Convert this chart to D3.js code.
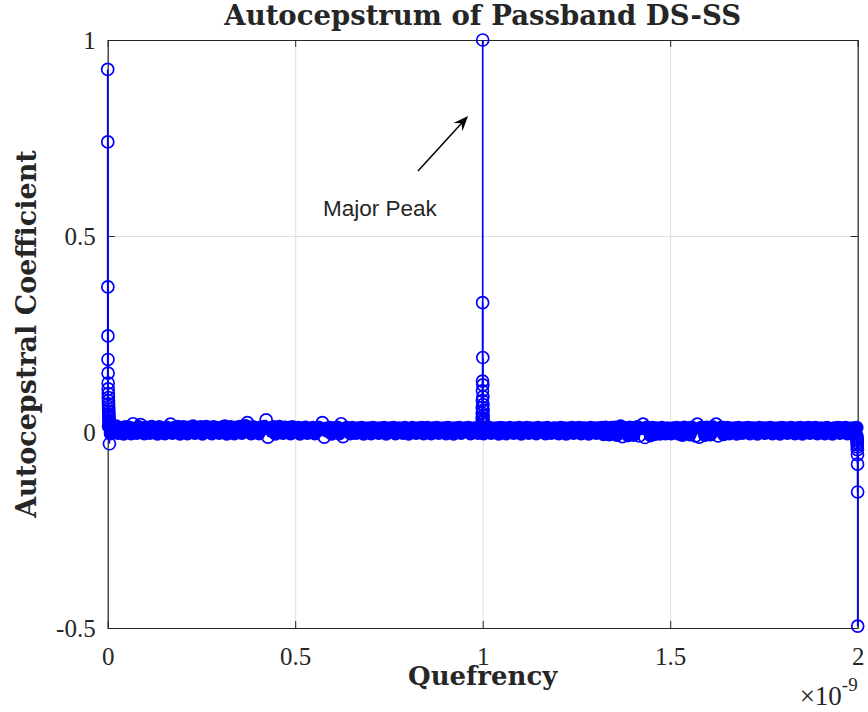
<!DOCTYPE html>
<html>
<head>
<meta charset="utf-8">
<script src="https://cdn.jsdelivr.net/npm/d3@7"></script>
<style>
  body { margin: 0; background: #fff; }
  svg { display: block; }
</style>
</head>
<body>
<svg id="chart" width="868" height="712"></svg>
<script>
'use strict';

// quefrency in seconds, values are autocepstral coefficients
const xTicks = [0, 0.5e-9, 1e-9, 1.5e-9, 2e-9];
const yTicks = [-0.5, 0, 0.5, 1];

// the big coefficients bunched at the origin
const leadQuefrency = [0, 0.0002e-9, 0.0004e-9, 0.0006e-9, 0.0008e-9, 0.001e-9, 0.0012e-9, 0.0014e-9,
  0.0016e-9, 0.0018e-9, 0.002e-9, 0.0022e-9, 0.0024e-9, 0.0026e-9, 0.0028e-9, 0.003e-9, 0.0032e-9,
  0.0034e-9, 0.0036e-9, 0.0038e-9, 0.004e-9, 0.0042e-9, 0.0044e-9, 0.0046e-9];
const leadValues = [0.925, 0.74, 0.37, 0.245, 0.185, 0.15, 0.125, 0.11, 0.098, 0.088, 0.08, 0.072,
  0.065, 0.058, 0.052, 0.046, 0.041, 0.036, 0.031, 0.027, 0.023, 0.019, 0.016, -0.03];

// the peak at one chip period
const peakQuefrency = [1e-9, 0.9998e-9, 1.0002e-9, 0.9996e-9, 1.0004e-9, 0.9994e-9, 1.0006e-9,
  0.9992e-9, 1.0008e-9, 0.999e-9, 1.001e-9, 0.9988e-9, 1.0012e-9, 0.9986e-9, 1.0014e-9, 0.9984e-9, 1.0016e-9];
const peakValues = [1.0, 0.33, 0.19, 0.13, 0.12, 0.105, 0.09, 0.08, 0.07, 0.062, 0.055, 0.048,
  0.042, 0.036, 0.03, 0.025, 0.02];

// the negative tail at the far end
const tailQuefrency = [2e-9, 1.9998e-9, 1.9996e-9, 1.9994e-9, 1.9992e-9, 1.999e-9, 1.9988e-9,
  1.9986e-9, 1.9984e-9, 1.9982e-9, 1.998e-9, 1.9978e-9];
const tailValues = [-0.495, -0.153, -0.082, -0.058, -0.045, -0.038, -0.032, -0.027, -0.022,
  -0.018, -0.014, -0.01];

// floor samples, one every floorStep
const floorStep = 0.005e-9;
const floorValues = [
  0.014, -0.004, 0.009, 0.002, 0.015, -0.003, 0.011, 0.006, -0.005, 0.013,
  0.004, 0.012, -0.004, 0.021, 0.008, -0.003, 0.013, 0.019, 0.001, -0.004,
  0.012, 0.007, -0.003, 0.014, 0.003, 0.010, -0.005, 0.013, 0.006, 0.001,
  -0.004, 0.012, 0.008, 0.020, -0.003, 0.011, 0.004, 0.014, -0.005, 0.009,
  0.013, 0.002, -0.004, 0.012, 0.007, 0.015, -0.003, 0.010, 0.005, 0.013,
  -0.005, 0.009, 0.014, 0.001, 0.011, -0.004, 0.013, 0.006, 0.010, -0.003,
  0.012, 0.004, 0.015, -0.005, 0.009, 0.013, 0.002, -0.004, 0.012, 0.007,
  0.014, -0.003, 0.010, 0.016, 0.024, 0.005, -0.004, 0.013, 0.009, 0.002,
  -0.004, 0.012, 0.007, 0.014, 0.031, -0.013, 0.010, 0.003, 0.013, -0.005,
  0.009, 0.014, 0.002, -0.003, 0.012, 0.006, 0.011, -0.004, 0.013, 0.008,
  0.003, 0.011, -0.005, 0.010, 0.007, 0.012, -0.003, 0.009, 0.004, 0.011,
  -0.004, 0.010, 0.012, 0.006, 0.024, -0.013, 0.009, 0.002, 0.011, -0.005,
  0.010, 0.005, 0.012, -0.004, 0.021, -0.012, 0.008, 0.011, 0.003, -0.004,
  0.011, 0.006, -0.003, 0.010, 0.002, 0.011, -0.005, 0.009, 0.007, 0.010,
  -0.004, 0.011, 0.004, 0.009, -0.003, 0.010, 0.006, 0.011, -0.005, 0.008,
  0.010, 0.002, 0.011, -0.004, 0.007, 0.010, 0.003, -0.003, 0.011, 0.006,
  -0.005, 0.009, 0.011, 0.004, -0.003, 0.010, 0.007, 0.011, -0.004, 0.008,
  0.011, 0.003, -0.004, 0.010, 0.006, 0.011, -0.003, 0.009, 0.002, 0.010,
  -0.004, 0.011, 0.007, 0.009, -0.005, 0.010, 0.004, 0.011, -0.003, 0.008,
  0.010, 0.005, 0.011, -0.004, 0.008, 0.010, 0.002, -0.003, 0.011, 0.006,
  -0.004, 0.010, 0.007, 0.011, -0.003, 0.009, 0.004, 0.010, -0.005, 0.011,
  0.006, 0.010, -0.004, 0.008, 0.011, 0.003, -0.003, 0.010, 0.007, 0.011,
  -0.005, 0.009, 0.004, 0.011, -0.003, 0.010, 0.006, 0.009, -0.004, 0.011,
  0.008, 0.002, 0.010, -0.004, 0.011, 0.006, -0.003, 0.009, 0.010, 0.004,
  -0.004, 0.011, 0.007, 0.010, -0.005, 0.009, 0.003, 0.011, -0.003, 0.010,
  0.006, 0.011, -0.004, 0.009, 0.010, 0.002, -0.005, 0.011, 0.007, 0.010,
  -0.003, 0.010, 0.005, 0.011, -0.006, 0.012, 0.004, -0.007, 0.011, 0.008,
  0.012, -0.008, 0.010, 0.015, -0.012, 0.011, 0.006, -0.009, 0.012, 0.004,
  -0.008, 0.011, 0.013, -0.010, 0.009, 0.020, -0.014, 0.012, 0.005, -0.009,
  0.011, -0.006, 0.010, 0.004, -0.005, 0.011, 0.007, -0.004, 0.010, 0.003,
  -0.004, 0.010, 0.006, 0.011, -0.005, 0.009, -0.008, 0.012, 0.004, 0.010,
  -0.007, 0.012, 0.008, -0.010, 0.020, -0.013, 0.011, 0.006, -0.008, 0.012,
  0.009, -0.007, 0.013, 0.004, 0.020, -0.010, 0.010, 0.012, -0.006, 0.008,
  0.011, -0.004, 0.009, 0.006, 0.010, -0.005, 0.011, 0.003, -0.003, 0.010,
  0.007, 0.011, -0.004, 0.009, 0.010, 0.002, -0.005, 0.011, 0.006, 0.010,
  -0.003, 0.010, 0.005, 0.011, -0.004, 0.009, 0.007, 0.010, -0.005, 0.011,
  0.004, 0.010, -0.003, 0.009, 0.011, 0.006, -0.004, 0.010, 0.003, 0.011,
  -0.005, 0.009, 0.007, 0.011, -0.003, 0.010, 0.004, 0.011, -0.004, 0.008,
  0.010, 0.006, -0.004, 0.011, 0.009, 0.003, -0.005, 0.010, 0.007, 0.011,
  -0.003, 0.010, 0.004, 0.011, -0.004, 0.009, 0.006, 0.010, -0.005, 0.011
];
// floor markers inside this range sit in the solid band (thousands of overlapping rings)
const bandRange = [-0.009, 0.016];

// text arrow, in data units
const noteText = 'Major Peak';
const noteAt = [0.574e-9, 0.551];
const arrowFrom = [0.8275e-9, 0.666];
const arrowTo = [0.961e-9, 0.806];

const svg = d3.select('#chart');
const plotLeft = 107.7, plotRight = 857.7, plotTop = 40, plotBottom = 628;

const x = d3.scaleLinear().domain([0, 2e-9]).range([plotLeft, plotRight]);
const y = d3.scaleLinear().domain([-0.5, 1]).range([plotBottom, plotTop]);

const tickFont = 'Liberation Serif, Times New Roman, serif';
const labelFont = 'DejaVu Serif, serif';
const ink = '#262626';
const blue = '#0000ff';

// grid
svg.append('g')
  .attr('transform', `translate(0,${plotBottom})`)
  .call(d3.axisBottom(x).tickValues(xTicks).tickSize(-(plotBottom - plotTop)).tickFormat(''))
  .call(g => g.select('.domain').remove())
  .call(g => g.selectAll('line').attr('stroke', '#dfdfdf'));
svg.append('g')
  .attr('transform', `translate(${plotLeft},0)`)
  .call(d3.axisLeft(y).tickValues(yTicks).tickSize(-(plotRight - plotLeft)).tickFormat(''))
  .call(g => g.select('.domain').remove())
  .call(g => g.selectAll('line').attr('stroke', '#dfdfdf'));

// axes box with inward ticks
function styleAxis(g) {
  g.select('.domain').attr('stroke', ink).attr('stroke-width', 1.2);
  g.selectAll('.tick line').attr('stroke', ink);
  g.selectAll('text')
    .attr('font-family', tickFont)
    .attr('font-size', 25)
    .attr('fill', ink);
}
svg.append('g')
  .attr('transform', `translate(0,${plotBottom})`)
  .call(d3.axisBottom(x).tickValues(xTicks).tickSizeInner(-7).tickSizeOuter(0)
    .tickPadding(19).tickFormat(d => String(+(d / 1e-9).toFixed(1))))
  .call(styleAxis);
svg.append('g')
  .attr('transform', `translate(0,${plotTop})`)
  .call(d3.axisTop(x).tickValues(xTicks).tickSizeInner(-7).tickSizeOuter(0).tickFormat(''))
  .call(styleAxis);
svg.append('g')
  .attr('transform', `translate(${plotLeft},0)`)
  .call(d3.axisLeft(y).tickValues(yTicks).tickSizeInner(-7).tickSizeOuter(0)
    .tickPadding(12).tickFormat(d => String(d)))
  .call(styleAxis);
svg.append('g')
  .attr('transform', `translate(${plotRight},0)`)
  .call(d3.axisRight(y).tickValues(yTicks).tickSizeInner(-7).tickSizeOuter(0).tickFormat(''))
  .call(styleAxis);

// stems
const floorPoints = floorValues.map((v, i) => ({
  q: (i + 0.5) * floorStep, v, solid: v >= bandRange[0] && v <= bandRange[1]
}));
const zip = (qs, vs) => qs.map((q, i) => ({ q, v: vs[i], solid: false }));
const points = floorPoints
  .concat(zip(tailQuefrency, tailValues))
  .concat(zip(peakQuefrency, peakValues))
  .concat(zip(leadQuefrency, leadValues));

const stems = svg.append('g');
stems.selectAll('line')
  .data(points)
  .enter().append('line')
    .attr('x1', d => x(d.q))
    .attr('x2', d => x(d.q))
    .attr('y1', y(0))
    .attr('y2', d => y(d.v))
    .attr('stroke', blue)
    .attr('stroke-width', 1.6);
stems.selectAll('circle')
  .data(points)
  .enter().append('circle')
    .attr('cx', d => x(d.q))
    .attr('cy', d => y(d.v))
    .attr('r', 6)
    .attr('fill', d => d.solid ? blue : 'none')
    .attr('stroke', blue)
    .attr('stroke-width', 1.7);

// title and labels
svg.append('text')
  .attr('x', (plotLeft + plotRight) / 2)
  .attr('y', 25)
  .attr('text-anchor', 'middle')
  .attr('font-family', labelFont)
  .attr('font-weight', 'bold')
  .attr('font-size', 27.5)
  .attr('fill', ink)
  .text('Autocepstrum of Passband DS-SS');

svg.append('text')
  .attr('x', (plotLeft + plotRight) / 2)
  .attr('y', 685)
  .attr('text-anchor', 'middle')
  .attr('font-family', labelFont)
  .attr('font-weight', 'bold')
  .attr('font-size', 26)
  .attr('fill', ink)
  .text('Quefrency');

svg.append('text')
  .attr('transform', `translate(36,${(plotTop + plotBottom) / 2}) rotate(-90)`)
  .attr('text-anchor', 'middle')
  .attr('font-family', labelFont)
  .attr('font-weight', 'bold')
  .attr('font-size', 27)
  .attr('fill', ink)
  .text('Autocepstral Coefficient');

// exponent
const expo = svg.append('text')
  .attr('x', plotRight)
  .attr('y', 705)
  .attr('text-anchor', 'end')
  .attr('font-family', tickFont)
  .attr('font-size', 27)
  .attr('fill', ink);
expo.append('tspan').text('\u00d710');
expo.append('tspan').attr('dy', -14).attr('font-size', 19).text('-9');

// annotation
svg.append('text')
  .attr('x', x(noteAt[0]))
  .attr('y', y(noteAt[1]))
  .attr('font-family', 'Liberation Sans, Arial, sans-serif')
  .attr('font-size', 22.5)
  .attr('fill', ink)
  .text(noteText);

const ax0 = x(arrowFrom[0]), ay0 = y(arrowFrom[1]);
const ax1 = x(arrowTo[0]), ay1 = y(arrowTo[1]);
const len = Math.hypot(ax1 - ax0, ay1 - ay0);
const ux = (ax1 - ax0) / len, uy = (ay1 - ay0) / len;
const nx = -uy, ny = ux;
const headL = 15, headW = 12;
svg.append('line')
  .attr('x1', ax0).attr('y1', ay0)
  .attr('x2', ax1 - ux * headL * 0.6).attr('y2', ay1 - uy * headL * 0.6)
  .attr('stroke', '#000')
  .attr('stroke-width', 1.5);
svg.append('path')
  .attr('d', d3.line()([
    [ax1, ay1],
    [ax1 - ux * headL + nx * headW / 2, ay1 - uy * headL + ny * headW / 2],
    [ax1 - ux * headL * 0.65, ay1 - uy * headL * 0.65],
    [ax1 - ux * headL - nx * headW / 2, ay1 - uy * headL - ny * headW / 2]
  ]) + 'Z')
  .attr('fill', '#000');
</script>
</body>
</html>
